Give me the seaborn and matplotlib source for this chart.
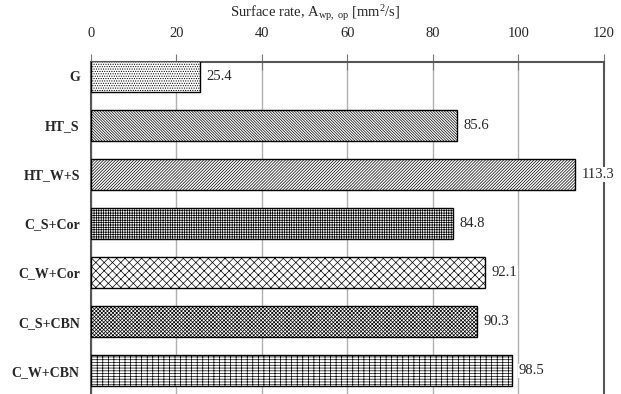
import pandas as pd
import matplotlib.pyplot as plt
import seaborn as sns

categories = ['G', 'HT_S', 'HT_W+S', 'C_S+Cor', 'C_W+Cor', 'C_S+CBN', 'C_W+CBN']
values = [25.4, 85.6, 113.3, 84.8, 92.1, 90.3, 98.5]
hatches = ['.' * 7, '\\' * 12, '/' * 11, '+' * 7, 'x' * 4, 'x' * 9, '+-' * 3]
xticks = [0, 20, 40, 60, 80, 100, 120]

df = pd.DataFrame({'cat': categories, 'val': values})

sns.set_style('white')
plt.rcParams['font.family'] = ['Liberation Serif', 'DejaVu Serif']
plt.rcParams['mathtext.fontset'] = 'custom'
plt.rcParams['mathtext.rm'] = 'Liberation Serif'
plt.rcParams['mathtext.it'] = 'Liberation Serif:italic'
plt.rcParams['hatch.linewidth'] = 0.5

fig = plt.figure(figsize=(6.21, 3.94), dpi=100)
ax = fig.add_axes([0.1465, 0.0, 0.826, 0.8426])

sns.barplot(data=df, x='val', y='cat', orient='h', color='white',
            edgecolor='black', linewidth=1.0, width=0.63, ax=ax, zorder=3)

for bar, h in zip(ax.patches, hatches):
    bar.set_hatch(h)

# value labels next to bars (white box hides the spine behind 113.3)
for bar, v in zip(ax.patches, values):
    ax.text(bar.get_width() + 1.5, bar.get_y() + bar.get_height() / 2,
            f'{v:.1f}', va='center', ha='left', fontsize=10.5, zorder=4,
            clip_on=False,
            bbox=dict(facecolor='white', edgecolor='none', pad=0.5))

ax.set_xlim(0, 120)
ax.set_ylim(6.47, -0.285)
ax.set_xticks(xticks)
ax.xaxis.tick_top()
ax.set_xlabel('')
ax.set_ylabel('')
fig.text(0.507, 0.967, 'Surface rate, A$_{\\mathrm{wp,\\ op}}$ [mm$^{\\mathrm{2}}$/s]',
         ha='center', va='center', fontsize=10.5)
ax.grid(axis='x', color='#b0b0b0', linewidth=1.0, zorder=0)
ax.tick_params(axis='x', direction='inout', length=12, width=0.8, color='#777777',
               labelsize=10.5, pad=10)
ax.tick_params(axis='y', length=0, labelsize=10, pad=8)
for lbl in ax.get_yticklabels():
    lbl.set_fontweight('bold')

ax.spines['bottom'].set_visible(False)
for s in ['top', 'left', 'right']:
    ax.spines[s].set_color('#555555')
    ax.spines[s].set_linewidth(1.5)

fig.savefig('out.png', dpi=100)
